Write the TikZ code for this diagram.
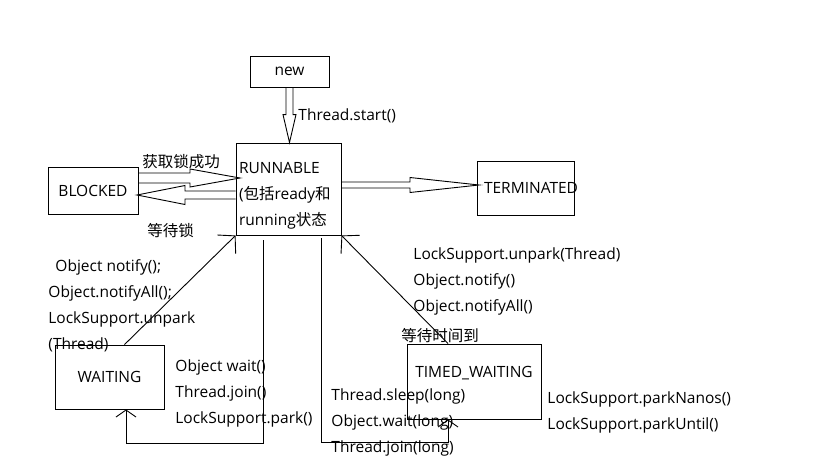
\documentclass[tikz,border=0pt]{standalone}
\usepackage{fontspec}
\setmainfont{Open Sans}
\newfontfamily\cjk{Noto Sans CJK SC}
\usetikzlibrary{calc,arrows.meta}

\begin{document}
\begin{tikzpicture}[x=1pt,y=-1pt,line width=0.9pt,
  every node/.style={font=\fontsize{15.5}{26}\selectfont,inner sep=0pt},
  box/.style={draw},
  hook/.style={-{Straight Barb[length=12pt,width=26pt]}},
  hooksm/.style={-{Straight Barb[length=7pt,width=20pt]}},
  fat/.style args={#1/#2/#3}{to path={
    ($(\tikztostart)!#1!90:(\tikztotarget)$)
    -- ($(\tikztotarget)!#3!(\tikztostart)!#1!90:(\tikztotarget)$)
    -- ($(\tikztotarget)!#3!(\tikztostart)!#2!90:(\tikztotarget)$)
    -- (\tikztotarget)
    -- ($(\tikztotarget)!#3!(\tikztostart)!#2!-90:(\tikztotarget)$)
    -- ($(\tikztotarget)!#3!(\tikztostart)!#1!-90:(\tikztotarget)$)
    -- ($(\tikztostart)!#1!-90:(\tikztotarget)$)}}]
\useasboundingbox (0,0) rectangle (819,460);

% states
\node[box,minimum width=79,minimum height=31] (new) at (289.5,71.5) {new};
\node[box,minimum width=105,minimum height=92,text width=99,align=left]
  (runnable) at (288.5,189) {\mbox{}\\[-2pt]RUNNABLE\\({\cjk 包括}ready{\cjk 和}\\running{\cjk 状态}};
\node[box,minimum width=90,minimum height=47] (blocked) at (93,190.5) {BLOCKED};
\node[box,minimum width=97,minimum height=54] (term) at (525.5,188)
  {\makebox[97pt][l]{\hspace{7pt}TERMINATED}};
\node[box,minimum width=109,minimum height=64] (waiting) at (109.5,377) {WAITING};
\node[box,minimum width=134,minimum height=75] (timed) at (474,381.5)
  {\raisebox{8.5pt}[\height][\depth]{TIMED\_WAITING}};

% labels
\node[anchor=west] (start) at (298,115.5) {Thread.start()};
\node[anchor=west] (gotlock) at (142,161.5) {{\cjk 获取锁成功}};
\node[anchor=west] (waitlock) at (147,230.5) {{\cjk 等待锁}};
\node[anchor=west,align=left] (wnotify) at (48,305.5)
  {\hspace*{7pt}Object notify();\\Object.notifyAll();\\LockSupport.unpark\\(Thread)};
\node[anchor=west,align=left] (wcall) at (175,393.5)
  {Object wait()\\Thread.join()\\LockSupport.park()};
\node[anchor=west,align=left] (tnotify) at (413,281.5)
  {LockSupport.unpark(Thread)\\Object.notify()\\Object.notifyAll()};
\node[anchor=west] (timeout) at (401,335.5) {{\cjk 等待时间到}};
\node[anchor=west,align=left] (tcall) at (331,422.5)
  {Thread.sleep(long)\\Object.wait(long)\\Thread.join(long)};
\node[anchor=west,align=left] (tpark) at (547,412.5)
  {LockSupport.parkNanos()\\LockSupport.parkUntil()};

\coordinate (lockin) at (240,178);
\coordinate (lockout) at (137,195);
\coordinate (endin) at (479,185);
\coordinate (wbase) at (126,443);
\coordinate (tbase) at (448,442);

% hollow arrows
\draw[fat=3.5pt/6.5pt/28pt] (new.south) to (new.south |- runnable.north);
\draw[fat=5pt/9pt/50pt] (blocked.east |- lockin) to (lockin);
\draw[fat=4pt/9.5pt/48pt] (runnable.west |- lockout) to (lockout);
\draw[fat=3pt/7.5pt/69pt] (runnable.east |- endin) to (endin);

% thin arrows
\draw[hook] ([xshift=15pt]waiting.north) -- (runnable.south west);
\draw[hooksm] ([xshift=-25.5pt,yshift=-5pt]runnable.south) |- (wbase) -- (wbase |- waiting.south);
\draw[hooksm] ([xshift=32.5pt,yshift=-3pt]runnable.south) |- (tbase) -- (tbase |- timed.south);
\draw[hook] (tbase |- timed.north) -- (runnable.south east);
\end{tikzpicture}
\end{document}
